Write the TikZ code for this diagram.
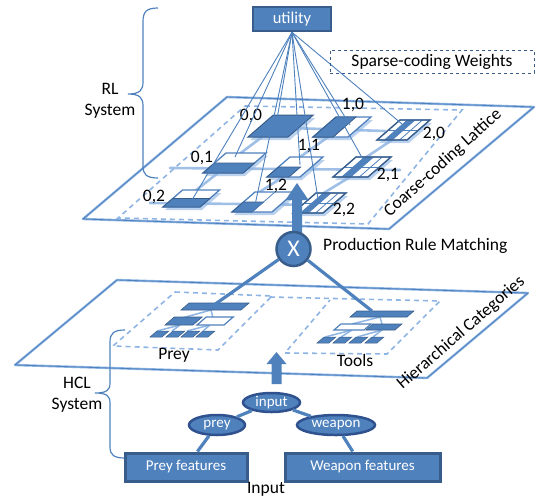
\documentclass[tikz,border=0pt]{standalone}
\usepackage{fontspec}
\setmainfont{Carlito}
\usetikzlibrary{shapes.geometric}
\definecolor{mblue}{HTML}{4F81BD}
\definecolor{dblue}{HTML}{385D8A}
\definecolor{ddblue}{HTML}{2F528F}
\definecolor{lblue}{HTML}{8EB4E3}
\definecolor{pblue}{HTML}{C6D9F1}
\newcommand\labfont{\fontsize{17.5}{21}\selectfont}
\newcommand\boxfont{\fontsize{15}{17}\selectfont}
\newcommand\xfont{\fontsize{24}{26}\selectfont}
% parallelogram: bottom-left x, y, width, height, style
\newcommand\ptile[5]{\path[#5] ({#1},{#2}) -- ++({1.15*#4},{-#4}) -- ++({#3},0) -- ++({-1.15*#4},{#4}) -- cycle;}
% striped tile
\newcommand\stile[4]{%
  \ptile{#1+2}{#2+3}{#3}{#4}{fill=lblue, opacity=0.6}
  \ptile{#1}{#2}{#3}{#4}{fill=white, draw=mblue, line width=1.2pt}
  \ptile{#1+0.25*#3}{#2}{0.25*#3}{#4}{fill=mblue}
  \foreach \k in {1,2,3} {\draw[mblue, line width=0.8pt] ({#1+\k*#3/4},{#2}) -- ++({1.15*#4},{-#4});}
  \draw[mblue, line width=0.8pt] ({#1+0.575*#4},{#2-#4/2}) -- ++({#3},0);
  \ptile{#1}{#2}{#3}{#4}{draw=dblue, line width=1.2pt}}
% half-filled tile
\newcommand\htile[5]{%
  \ptile{#1+2}{#2+3}{#3}{#4}{fill=lblue, opacity=0.6}
  \ptile{#1}{#2}{#3}{#4}{fill=white, draw=mblue, line width=1.3pt}
  \ptile{#1}{#2}{#5}{#4/2}{fill=mblue, draw=dblue, line width=0.8pt}}
\begin{document}
\begin{tikzpicture}[x=1pt,y=-1pt,
  lbl/.style={font=\labfont, inner sep=0pt, text=black},
  bluebox/.style={rectangle, fill=mblue, draw=dblue, line width=2.5pt, text=white, font=\boxfont, inner sep=0pt},
  blueell/.style={ellipse, fill=mblue, draw=ddblue, line width=2.5pt, text=white, font=\boxfont, inner sep=0pt},
  fan/.style={mblue, line width=0.9pt},
  conn/.style={mblue, line width=3.2pt},
  glow/.style={lblue, line width=2.6pt, opacity=0.85, line cap=round},
  innerdash/.style={lblue, line width=1.6pt, dash pattern=on 5pt off 4pt},
  bracest/.style={mblue, line width=1.2pt},
  treeln/.style={lblue, line width=1.5pt}]
\useasboundingbox (0,0) rectangle (535,499);

% ---------------- Coarse-coding lattice plane
\coordinate (LA) at (227,97);
\coordinate (LB) at (534,107);
\coordinate (LC) at (389,229);
\coordinate (LD) at (83,219);
\draw[lblue, line width=2.4pt, line join=round] (LA) -- (LB) -- (LC) -- (LD) -- cycle;
\draw[mblue, line width=0.8pt, line join=round] (LA) -- (LB) -- (LC) -- (LD) -- cycle;
\draw[innerdash] (245,106) -- (462,110) -- (368,224) -- (118,218) -- cycle;

% lattice glow connections
\draw[glow] (170,168) -- (400,170);
\draw[glow] (150,203) -- (330,205);
\draw[glow] (290,128) -- (385,131);
\draw[glow] (262,137) -- (238,155);
\draw[glow] (218,173) -- (195,191);
\draw[glow] (328,137) -- (300,157);
\draw[glow] (283,177) -- (258,193);
\draw[glow] (392,140) -- (365,158);
\draw[glow] (350,177) -- (322,194);

% tiles
\ptile{250}{140}{40}{22}{fill=lblue, opacity=0.6}
\ptile{248}{137}{40}{22}{fill=mblue, draw=dblue, line width=1pt}
\htile{313}{137}{35}{20}{20}
\ptile{313}{137}{20}{20}{fill=mblue, draw=dblue, line width=0.8pt}
\stile{377}{140}{30}{20}
\htile{203}{173}{40}{20}{40}
\htile{267}{177}{33}{20}{22}
\stile{333}{177}{35}{20}
\htile{163}{207}{37}{17}{37}
\htile{232}{212}{40}{20}{20}
\draw[mblue, line width=0.8pt] (252,212) -- ++(23,-20);
\stile{293}{213}{30}{20}

% tile labels
\node[lbl] (t00) at (251,116) {0,0};
\node[lbl] (t10) at (353,105) {1,0};
\node[lbl] (t20) at (434,134) {2,0};
\node[lbl] (t01) at (202,158) {0,1};
\node[lbl] (t11) at (309,146) {1,1};
\node[lbl] (t21) at (388,175) {2,1};
\node[lbl] (t02) at (154,197) {0,2};
\node[lbl] (t12) at (276,186) {1,2};
\node[lbl] (t22) at (344,210) {2,2};

% lattice label
\node[lbl, rotate=42] (cclat) at (443,163) {Coarse-coding Lattice};

% utility and fan
\node[bluebox, font=\fontsize{16.5}{18}\selectfont, minimum width=78pt, minimum height=24pt] (util) at (292,19) {utility};
\coordinate (c00) at (276,125);
\coordinate (c10) at (350,125);
\coordinate (c20) at (402,124);
\coordinate (c01) at (235,157);
\coordinate (c11) at (300,165);
\coordinate (c21) at (365,163);
\coordinate (c02) at (192,200);
\coordinate (c12) at (255,205);
\coordinate (c22) at (318,199);
\foreach \c in {c00,c10,c20,c01,c11,c21,c02,c12,c22} {\draw[fan] (util.south) -- (\c);}

% sparse coding weights
\node[rectangle, draw=dblue, dashed, line width=1pt, minimum width=204pt, minimum height=23pt, font=\labfont, inner sep=0pt] (scw) at (432,61.5) {Sparse-coding Weights};

% RL brace
\draw[bracest] (158,8) .. controls (146,8) and (143,12) .. (143,22) -- (143,82) .. controls (143,90) and (140,94) .. (128,94) .. controls (140,94) and (143,98) .. (143,106) -- (143,166) .. controls (143,174) and (146,178) .. (158,178);
\node[lbl, align=center] (rl) at (110,101) {RL\\System};

% big up arrow
\fill[mblue] (292,233) -- (292,200) -- (285.5,200) -- (297,183) -- (308.5,200) -- (302,200) -- (302,233) -- cycle;

% production rule matching
\node[circle, fill=mblue, draw=dblue, line width=2.5pt, minimum size=34pt, inner sep=0pt, text=white, font=\xfont] (X) at (293.5,249) {X};
\node[lbl, anchor=west] (prm) at (323,246) {Production Rule Matching};

% ---------------- Hierarchical categories plane
\coordinate (HA) at (117,280);
\coordinate (HB) at (528,293);
\coordinate (HC) at (427,378);
\coordinate (HD) at (15,365);
\draw[lblue, line width=2.4pt, line join=round] (HA) -- (HB) -- (HC) -- (HD) -- cycle;
\draw[mblue, line width=0.8pt, line join=round] (HA) -- (HB) -- (HC) -- (HD) -- cycle;
\draw[innerdash] (175,292) -- (272,296) -- (218,350) -- (113,346) -- cycle;
\draw[innerdash] (270,297) -- (440,301) -- (387,354) -- (285,353) -- (330,300);
\node[lbl, rotate=41] (hc) at (461,333) {Hierarchical Categories};

% Prey tree
\coordinate (preytop) at (214,305);
\draw[treeln] (211,310) -- (182,318);
\draw[treeln] (211,310) -- (213,318);
\draw[treeln] (180,325) -- (157,331);
\draw[treeln] (180,325) -- (172,331);
\draw[treeln] (210,325) -- (187,331);
\draw[treeln] (210,325) -- (203,331);
\ptile{181}{310}{60}{7}{fill=mblue, draw=dblue, line width=0.6pt}
\ptile{165}{325}{28}{8}{fill=mblue, draw=dblue, line width=0.6pt}
\ptile{197}{325}{27}{8}{fill=white, draw=mblue, line width=1.2pt}
\foreach \xx in {150,166,181,196} {\ptile{\xx}{337}{12}{6}{fill=mblue, draw=dblue, line width=0.5pt}}
\node[lbl] (prey) at (174,355) {Prey};

% Tools tree
\coordinate (toolstop) at (372,311);
\draw[treeln] (380,317) -- (352,324);
\draw[treeln] (380,317) -- (382,324);
\draw[treeln] (352,330) -- (325,337);
\draw[treeln] (352,330) -- (341,337);
\draw[treeln] (382,330) -- (357,337);
\draw[treeln] (382,330) -- (373,337);
\ptile{350}{317}{57}{6}{fill=mblue, draw=dblue, line width=0.6pt}
\ptile{334}{330}{30}{6}{fill=white, draw=mblue, line width=1.2pt}
\ptile{366}{330}{29}{6}{fill=mblue, draw=dblue, line width=0.6pt}
\foreach \xx in {317,333,349,365} {\ptile{\xx}{343}{12}{6}{fill=mblue, draw=dblue, line width=0.5pt}}
\node[lbl] (tools) at (355,360) {Tools};

% X to trees
\draw[conn] (X) -- (preytop);
\draw[conn] (X) -- (toolstop);

% small up arrow
\fill[mblue] (271.5,384) -- (271.5,364) -- (266.5,364) -- (276.5,352) -- (286.5,364) -- (281.5,364) -- (281.5,384) -- cycle;

% HCL brace
\draw[bracest] (125,330) .. controls (114,330) and (110,333) .. (110,342) -- (110,383) .. controls (110,390) and (107,393) .. (95,393) .. controls (107,393) and (110,396) .. (110,403) -- (110,447) .. controls (110,455) and (114,458) .. (125,458);
\node[lbl, align=center] (hcl) at (77,395) {HCL\\System};

% ---------------- Input tree
\node[blueell, minimum width=57pt, minimum height=19pt] (inp) at (271.5,402.5) {input};
\node[blueell, minimum width=56pt, minimum height=20pt] (preyE) at (217,425) {prey};
\node[blueell, minimum width=78pt, minimum height=20pt] (weapE) at (336,425) {weapon};
\node[bluebox, line width=3pt, minimum width=122pt, minimum height=28pt] (preyF) at (186,467) {Prey features};
\node[bluebox, line width=3pt, minimum width=155pt, minimum height=28pt] (weapF) at (362.5,467) {Weapon features};
\draw[conn] (inp) -- (preyE);
\draw[conn] (inp) -- (weapE);
\draw[conn] (preyE) -- (preyF);
\draw[conn] (weapE) -- (weapF);
\node[lbl] (inlbl) at (266,489) {Input};
\end{tikzpicture}
\end{document}
